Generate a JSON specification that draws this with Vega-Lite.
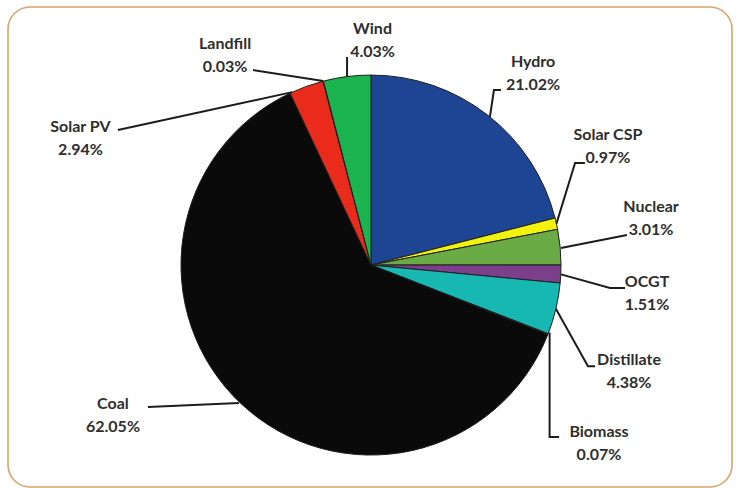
{
  "$schema": "https://vega.github.io/schema/vega-lite/v6.json",
  "autosize": {"type": "fit", "contains": "padding"},
  "width": 736,
  "height": 488,
  "padding": {"left": 8, "top": 7, "right": 4, "bottom": 1},
  "background": "white",
  "config": {
    "view": {"stroke": "#d9a46c", "strokeWidth": 1.6, "cornerRadius": 22, "fill": "white"}
  },
  "datasets": {
    "slices": [
      {"source": "Hydro", "share": 0.2102, "order": 1, "labelX": 85.3, "labelY": 100.8},
      {"source": "Solar CSP", "share": 0.0097, "order": 2, "labelX": 124.7, "labelY": 62.4},
      {"source": "Nuclear", "share": 0.0301, "order": 3, "labelX": 147.4, "labelY": 24.5},
      {"source": "OCGT", "share": 0.0151, "order": 4, "labelX": 145.3, "labelY": -15.0},
      {"source": "Distillate", "share": 0.0438, "order": 5, "labelX": 135.8, "labelY": -56.1},
      {"source": "Biomass", "share": 0.0007, "order": 6, "labelX": 120.0, "labelY": -93.9},
      {"source": "Coal", "share": 0.6205, "order": 7, "labelX": -135.8, "labelY": -79.2},
      {"source": "Solar PV", "share": 0.0294, "order": 8, "labelX": -152.9, "labelY": 66.6},
      {"source": "Landfill", "share": 0.0003, "order": 9, "labelX": -76.8, "labelY": 110.5},
      {"source": "Wind", "share": 0.0403, "order": 10, "labelX": 0.8, "labelY": 118.4}
    ],
    "leaders": [
      {"source": "Wind", "seq": 1, "lx": -12.6, "ly": 109.5},
      {"source": "Wind", "seq": 2, "lx": -12.6, "ly": 99.2},
      {"source": "Landfill", "seq": 1, "lx": -62.1, "ly": 102.6},
      {"source": "Landfill", "seq": 2, "lx": -25.2, "ly": 96.8},
      {"source": "Solar PV", "seq": 1, "lx": -133.2, "ly": 71.1},
      {"source": "Solar PV", "seq": 2, "lx": -41.5, "ly": 91.0},
      {"source": "Hydro", "seq": 1, "lx": 68.4, "ly": 92.1},
      {"source": "Hydro", "seq": 2, "lx": 64.7, "ly": 92.1},
      {"source": "Hydro", "seq": 3, "lx": 62.6, "ly": 78.0},
      {"source": "Solar CSP", "seq": 1, "lx": 112.6, "ly": 53.7},
      {"source": "Solar CSP", "seq": 2, "lx": 107.4, "ly": 53.7},
      {"source": "Solar CSP", "seq": 3, "lx": 97.6, "ly": 21.8},
      {"source": "Nuclear", "seq": 1, "lx": 134.7, "ly": 15.8},
      {"source": "Nuclear", "seq": 2, "lx": 100.0, "ly": 9.0},
      {"source": "OCGT", "seq": 1, "lx": 133.7, "ly": -12.1},
      {"source": "OCGT", "seq": 2, "lx": 125.8, "ly": -12.1},
      {"source": "OCGT", "seq": 3, "lx": 100.0, "ly": -4.9},
      {"source": "Distillate", "seq": 1, "lx": 117.9, "ly": -53.2},
      {"source": "Distillate", "seq": 2, "lx": 114.2, "ly": -53.2},
      {"source": "Distillate", "seq": 3, "lx": 97.3, "ly": -23.0},
      {"source": "Biomass", "seq": 1, "lx": 99.0, "ly": -90.5},
      {"source": "Biomass", "seq": 2, "lx": 94.0, "ly": -90.5},
      {"source": "Biomass", "seq": 3, "lx": 94.0, "ly": -35.5},
      {"source": "Coal", "seq": 1, "lx": -117.4, "ly": -74.7},
      {"source": "Coal", "seq": 2, "lx": -69.5, "ly": -72.6}
    ]
  },
  "layer": [
    {
      "data": {"name": "slices"},
      "mark": {"type": "arc", "radius": 190, "stroke": "#1e1e1e", "strokeWidth": 1},
      "encoding": {
        "x": {"datum": 0, "type": "quantitative", "scale": {"domain": [-191.05, 190.0], "nice": false, "zero": false}, "axis": null},
        "y": {"datum": 0, "type": "quantitative", "scale": {"domain": [-116.8, 135.8], "nice": false, "zero": false}, "axis": null},
        "theta": {"field": "share", "type": "quantitative", "stack": true},
        "order": {"field": "order", "type": "quantitative"},
        "color": {
          "field": "source", "type": "nominal", "legend": null,
          "scale": {
            "domain": ["Hydro", "Solar CSP", "Nuclear", "OCGT", "Distillate", "Biomass", "Coal", "Solar PV", "Landfill", "Wind"],
            "range": ["#1d4594", "#f2f20f", "#6aab45", "#7c3f8b", "#16b8b1", "#8c6d3f", "#0a0a0a", "#ea2a1a", "#b0b0b0", "#1bb44e"]
          }
        }
      }
    },
    {
      "data": {"name": "leaders"},
      "mark": {"type": "line", "color": "#1c1c1c", "strokeWidth": 2},
      "encoding": {
        "x": {"field": "lx", "type": "quantitative", "axis": null},
        "y": {"field": "ly", "type": "quantitative", "axis": null},
        "detail": {"field": "source"},
        "order": {"field": "seq", "type": "quantitative"}
      }
    },
    {
      "data": {"name": "slices"},
      "mark": {"type": "text", "font": "Lato", "fontWeight": "bold", "fontSize": 16, "color": "#2e2e2e", "align": "center", "baseline": "middle", "dy": -11.5},
      "encoding": {
        "x": {"field": "labelX", "type": "quantitative", "axis": null},
        "y": {"field": "labelY", "type": "quantitative", "axis": null},
        "text": {"field": "source"}
      }
    },
    {
      "data": {"name": "slices"},
      "mark": {"type": "text", "font": "Lato", "fontWeight": "bold", "fontSize": 16, "color": "#2e2e2e", "align": "center", "baseline": "middle", "dy": 11.5},
      "encoding": {
        "x": {"field": "labelX", "type": "quantitative", "axis": null},
        "y": {"field": "labelY", "type": "quantitative", "axis": null},
        "text": {"field": "share", "format": ".2%"}
      }
    }
  ]
}
